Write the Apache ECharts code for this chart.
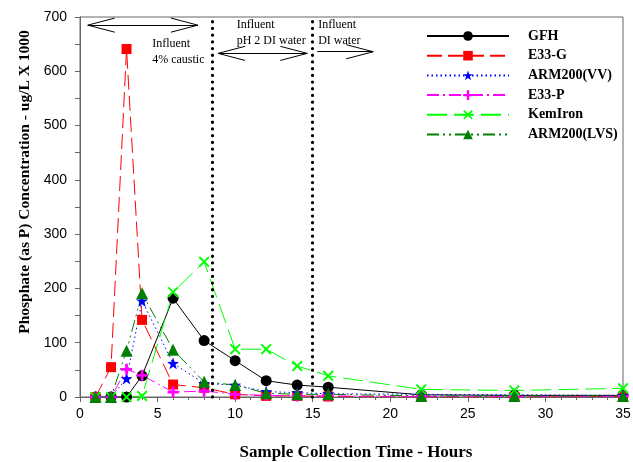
<!DOCTYPE html>
<html><head><meta charset="utf-8">
<script src="https://cdn.jsdelivr.net/npm/echarts@6/dist/echarts.min.js"></script>
<style>html,body{margin:0;padding:0;background:#fff}#c{width:633px;height:462px}</style>
</head><body><div id="c"></div>
<script>
const hours = [1, 2, 3, 4, 6, 8, 10, 12, 14, 16, 22, 28, 35];
const gfh = [0, 0, 0, 39, 182, 104, 67, 30, 22, 18, 4, 3, 3];
const e33g = [0, 55, 641, 142, 23, 17, 5, 2, 2, 1, 0, 0, 1];
const armVV = [0, 0, 34, 177, 62, 25, 22, 10, 8, 6, 5, 4, 3];
const e33p = [0, 0, 51, 40, 9, 11, 5, 3, 2, 2, 1, 1, 1];
const kemIron = [0, 0, 0, 2, 193, 249, 88, 88, 57, 39, 14, 12, 16];
const armLVS = [0, 0, 85, 191, 87, 28, 22, 7, 5, 5, 2, 2, 2];
const seriesNames = ['GFH', 'E33-G', 'ARM200(VV)', 'E33-P', 'KemIron', 'ARM200(LVS)'];
const phaseLines = [8.5, 15];
const annotArrows = [
  {x1: 0.5, x2: 7.6, y: 685, start: true},
  {x1: 8.9, x2: 14.65, y: 633, start: true},
  {x1: 15.3, x2: 18.9, y: 636, start: false}
];
const annotTexts = [
  {x: 4.65, y: 664, lines: ['Influent', '4% caustic']},
  {x: 10.1, y: 699, lines: ['Influent', 'pH 2 DI water']},
  {x: 15.35, y: 699, lines: ['Influent', 'DI water']}
];

const STAR = 'path://M0,-10 L2.35,-3.24 L9.51,-3.09 L3.8,1.24 L5.88,8.09 L0,4 L-5.88,8.09 L-3.8,1.24 L-9.51,-3.09 L-2.35,-3.24 Z';
const PLUS = 'path://M-2.5,-10 L2.5,-10 L2.5,-2.5 L10,-2.5 L10,2.5 L2.5,2.5 L2.5,10 L-2.5,10 L-2.5,2.5 L-10,2.5 L-10,-2.5 L-2.5,-2.5 Z';
const CROSS = 'path://M-7.5,-10 L0,-2.5 L7.5,-10 L10,-7.5 L2.5,0 L10,7.5 L7.5,10 L0,2.5 L-7.5,10 L-10,7.5 L-2.5,0 L-10,-7.5 Z';

function pairs(vals) { return hours.map((h, i) => [h, vals[i]]); }

const chart = echarts.init(document.getElementById('c'));
const serif = '"Liberation Serif","Times New Roman",serif';
const sans = '"Liberation Sans",Arial,sans-serif';

function mk(name, vals, color, dash, symbol, size) {
  return {
    name, type: 'line', data: pairs(vals), symbol, symbolSize: size,
    lineStyle: {color, width: 1, type: dash}, itemStyle: {color},
    animation: false
  };
}

const headLen = 1.74, headH = 13;
const arrowLines = [];
annotArrows.forEach(a => {
  arrowLines.push([{coord: [a.x1, a.y]}, {coord: [a.x2, a.y]}]);
  arrowLines.push([{coord: [a.x2, a.y]}, {coord: [a.x2 - headLen, a.y + headH]}]);
  arrowLines.push([{coord: [a.x2, a.y]}, {coord: [a.x2 - headLen, a.y - headH]}]);
  if (a.start) {
    arrowLines.push([{coord: [a.x1, a.y]}, {coord: [a.x1 + headLen, a.y + headH]}]);
    arrowLines.push([{coord: [a.x1, a.y]}, {coord: [a.x1 + headLen, a.y - headH]}]);
  }
});

const series = [
  mk('GFH', gfh, '#000000', 'solid', 'circle', 11),
  mk('E33-G', e33g, '#ff0000', [15, 6], 'rect', 10),
  mk('ARM200(VV)', armVV, '#0000ff', [1.5, 3], STAR, 12),
  mk('E33-P', e33p, '#ff00ff', [12, 4, 2, 4], PLUS, 11),
  mk('KemIron', kemIron, '#00ff00', [20, 7], CROSS, 11),
  mk('ARM200(LVS)', armLVS, '#008000', [12, 4, 2, 4, 2, 4], 'triangle', 12),
  {
    name: 'phases', type: 'line', data: [], silent: true, animation: false,
    markLine: {
      silent: true, symbol: ['none', 'none'], label: {show: false}, animation: false,
      lineStyle: {color: '#000', width: 3.2, type: [0.1, 6.6], cap: 'round'},
      data: phaseLines.map(v => ({xAxis: v}))
    }
  },
  {
    name: 'arrows', type: 'line', data: [], silent: true, animation: false,
    markLine: {
      silent: true, symbol: ['none', 'none'], label: {show: false}, animation: false,
      lineStyle: {color: '#000', width: 1, type: 'solid'},
      data: arrowLines
    }
  }
];

chart.setOption({
  backgroundColor: '#fff',
  animation: false,
  grid: {left: 80, right: 10, top: 17, bottom: 65, show: true, borderColor: '#666', borderWidth: 1,
         outerBoundsMode: 'none', containLabel: false},
  legend: {
    data: seriesNames, orient: 'vertical', left: 421, top: 24,
    itemWidth: 82, itemHeight: 12, itemGap: 5.7,
    textStyle: {fontFamily: serif, fontWeight: 'bold', fontSize: 14, color: '#000', padding: [0, 0, 0, 14]}
  },
  xAxis: {
    type: 'value', min: 0, max: 35, interval: 5,
    name: 'Sample Collection Time - Hours', nameLocation: 'middle', nameGap: 47,
    nameTextStyle: {fontFamily: serif, fontWeight: 'bold', fontSize: 17, color: '#000', padding: [0, 0, 0, 9]},
    axisLine: {lineStyle: {color: '#666'}},
    axisTick: {length: 5, lineStyle: {color: '#666'}},
    minorTick: {show: true, splitNumber: 5, length: 3, lineStyle: {color: '#666'}},
    axisLabel: {fontFamily: sans, fontSize: 14, color: '#000', margin: 10},
    splitLine: {show: false}
  },
  yAxis: {
    type: 'value', min: 0, max: 700, interval: 100,
    name: 'Phosphate (as P) Concentration - ug/L X 1000', nameLocation: 'middle', nameGap: 43,
    nameTextStyle: {fontFamily: serif, fontWeight: 'bold', fontSize: 15.5, color: '#000', padding: [0, 0, 0, 50]},
    axisLine: {show: true, lineStyle: {color: '#666'}},
    axisTick: {length: 5, lineStyle: {color: '#666'}},
    minorTick: {show: true, splitNumber: 2, length: 5, lineStyle: {color: '#666'}},
    axisLabel: {fontFamily: sans, fontSize: 14, color: '#000', margin: 13},
    splitLine: {show: false}
  },
  series
});

const gtexts = annotTexts.map(t => {
  const p = chart.convertToPixel({gridIndex: 0}, [t.x, t.y]);
  return {
    type: 'text', left: p[0], top: p[1], silent: true,
    style: {text: t.lines.join('\n'), fontFamily: serif, fontSize: 12, lineHeight: 15.5, fill: '#000'}
  };
});
chart.setOption({graphic: gtexts});
</script></body></html>
